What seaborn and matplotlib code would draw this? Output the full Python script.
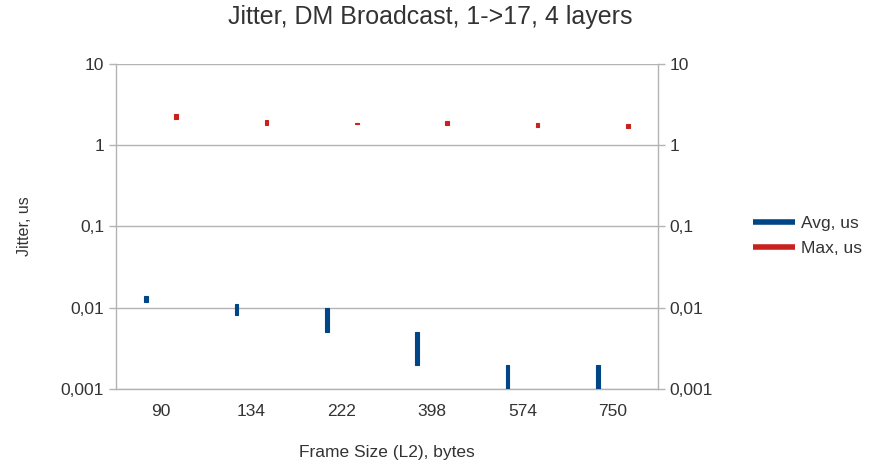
import numpy as np
import matplotlib
matplotlib.use("Agg")
import matplotlib.pyplot as plt
import seaborn as sns

# frame sizes (categories) and jitter ranges
frame_sizes = ["90", "134", "222", "398", "574", "750"]
avg_low = [0.0118, 0.0081, 0.0050, 0.0020, 0.0010, 0.0010]
avg_high = [0.0140, 0.0110, 0.0100, 0.0050, 0.0020, 0.0020]
max_low = [2.08, 1.80, 1.84, 1.78, 1.70, 1.64]
max_high = [2.40, 2.02, 1.90, 1.98, 1.88, 1.82]

y_ticks = [0.001, 0.01, 0.1, 1, 10]
y_tick_labels = ["0,001", "0,01", "0,1", "1", "10"]

sns.set_style("white")
plt.rcParams["font.family"] = ["Liberation Sans", "DejaVu Sans"]

fig = plt.figure(figsize=(8.7, 4.67), dpi=100)
ax = fig.add_axes([116 / 870, 78 / 467, 542 / 870, 325 / 467])

blue = "#004586"
red = "#c9211e"
grid_col = "#b3b3b3"
text_col = "#333333"

x = np.arange(len(frame_sizes))
w = 0.04
ax.bar(x - 0.166, np.array(avg_high) - np.array(avg_low), bottom=avg_low,
       width=w, color=blue, edgecolor=blue, linewidth=0.8, zorder=3)
ax.bar(x + 0.166, np.array(max_high) - np.array(max_low), bottom=max_low,
       width=w, color=red, edgecolor=red, linewidth=0.8, zorder=3)

ax.set_yscale("log")
ax.set_ylim(0.001, 10)
ax.set_xlim(-0.5, len(frame_sizes) - 0.5)
ax.set_yticks(y_ticks)
ax.set_yticklabels(y_tick_labels)
ax.minorticks_off()
ax.yaxis.grid(True, color=grid_col, linewidth=1)
ax.set_axisbelow(True)

# category ticks sit between the groups
ax.set_xticks(np.arange(-0.5, len(frame_sizes), 1.0))
ax.set_xticklabels([])
ax.set_xticks(x, minor=True)
ax.set_xticklabels(frame_sizes, minor=True)
ax.tick_params(axis="x", which="major", direction="out", length=6,
               color=grid_col, width=1)
ax.tick_params(axis="x", which="minor", length=0, pad=11,
               labelsize=12.5, labelcolor=text_col)
ax.tick_params(axis="y", which="major", direction="out", length=5,
               color=grid_col, width=1, labelsize=12.5, labelcolor=text_col,
               left=True, right=True, labelleft=True, labelright=True)

for s in ["left", "right", "bottom"]:
    ax.spines[s].set_color(grid_col)
    ax.spines[s].set_linewidth(1)
ax.spines["top"].set_visible(False)

ax.set_ylabel("Jitter, us", fontsize=11.5, color=text_col)
ax.yaxis.set_label_coords(-0.155, 0.5)
ax.set_xlabel("Frame Size (L2), bytes", fontsize=12.5, color=text_col)
ax.xaxis.set_label_coords(0.5, -0.172)
fig.suptitle("Jitter, DM Broadcast, 1->17, 4 layers", fontsize=18,
             color=text_col, x=0.495, y=0.99)

handles = [plt.Line2D([], [], color=blue, lw=4, solid_capstyle="butt"),
           plt.Line2D([], [], color=red, lw=4, solid_capstyle="butt")]
fig.legend(handles, ["Avg, us", "Max, us"], loc="center left",
           bbox_to_anchor=(741 / 870, 1 - 236 / 467), frameon=False,
           fontsize=12.5, handlelength=2.4, handletextpad=0.35,
           labelspacing=0.6, labelcolor=text_col, borderpad=0.2)

fig.savefig("out.png", dpi=100)
